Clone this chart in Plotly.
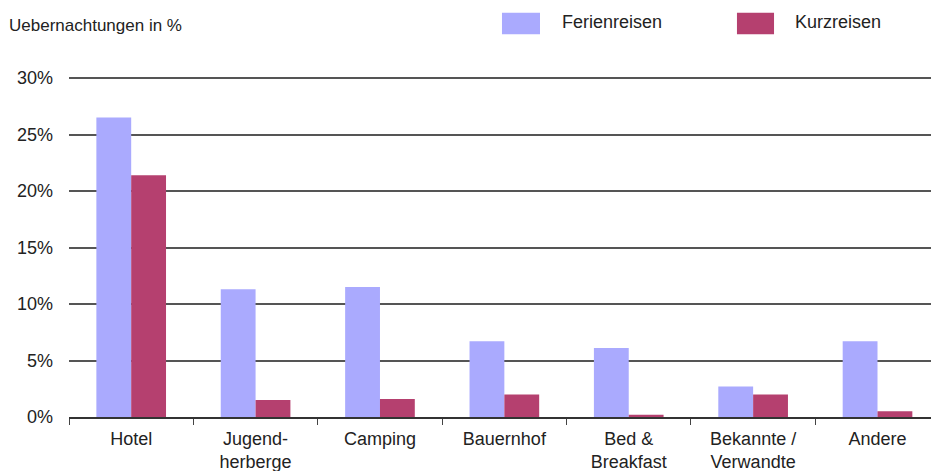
import plotly.graph_objects as go

categories = ["Hotel", "Jugend-<br>herberge", "Camping", "Bauernhof", "Bed &<br>Breakfast", "Bekannte /<br>Verwandte", "Andere"]
ferienreisen = [26.5, 11.3, 11.5, 6.7, 6.1, 2.7, 6.7]
kurzreisen = [21.4, 1.5, 1.6, 2.0, 0.2, 2.0, 0.5]
y_ticks = [0, 5, 10, 15, 20, 25, 30]
y_tick_labels = ["0%", "5%", "10%", "15%", "20%", "25%", "30%"]

FERIEN_COLOR = "#AAAAFE"
KURZ_COLOR = "#B5406F"
FONT = "Liberation Sans, Arial, Helvetica, sans-serif"
TEXT = "#222222"

W, H = 931, 471

fig = go.Figure()
fig.add_trace(go.Bar(x=categories, y=ferienreisen, name="Ferienreisen",
                     marker=dict(color=FERIEN_COLOR, line=dict(width=0))))
fig.add_trace(go.Bar(x=categories, y=kurzreisen, name="Kurzreisen",
                     marker=dict(color=KURZ_COLOR, line=dict(width=0))))

fig.update_layout(
    width=W, height=H,
    margin=dict(l=69, r=0, t=77, b=54, autoexpand=False),
    paper_bgcolor="white", plot_bgcolor="white",
    barmode="group", bargap=0.44, bargroupgap=0,
    showlegend=False,
    font=dict(family=FONT, color=TEXT),
    title=dict(text="Uebernachtungen in %", xref="container", yref="container",
               x=9/W, xanchor="left", y=1-25/H, yanchor="middle",
               font=dict(size=17, color=TEXT, family=FONT)),
)

fig.update_xaxes(
    type="category", range=[-0.5, 6.43],
    showline=True, linecolor="#333333", linewidth=2,
    ticks="outside", tickson="boundaries", ticklen=6, tickcolor="#444444", tickwidth=1,
    tickfont=dict(size=18, color=TEXT), ticklabelstandoff=4,
    showgrid=False, zeroline=False, automargin=False,
)
fig.update_yaxes(
    range=[0, 30.09], tickvals=y_ticks, ticktext=y_tick_labels,
    showgrid=True, gridcolor="#555555", gridwidth=2,
    zeroline=False, showline=False, ticks="",
    ticklabelstandoff=15, automargin=False,
    tickfont=dict(size=18, color=TEXT),
)

# legend (drawn manually to match the large swatches)
legend_items = [("Ferienreisen", FERIEN_COLOR, 0.5023, 0.5464, 0.5696),
                ("Kurzreisen", KURZ_COLOR, 0.7749, 0.8179, 0.8399)]
for name, color, x0, x1, tx in legend_items:
    fig.add_shape(type="rect", xref="paper", yref="paper", x0=x0, x1=x1,
                  y0=1.1256, y1=1.189, fillcolor=color, line=dict(width=0))
    fig.add_annotation(text=name, xref="paper", yref="paper", x=tx, y=1.1618,
                       xanchor="left", yanchor="middle", showarrow=False,
                       font=dict(size=18, color=TEXT, family=FONT))

# remove the default page margin so the 931x471 figure fills the window exactly
fig.write_html(
    "out.html",
    config={"displayModeBar": False},
    post_script="document.body.style.margin='0';document.body.style.overflow='hidden';"
                "document.documentElement.style.overflow='hidden';",
)
